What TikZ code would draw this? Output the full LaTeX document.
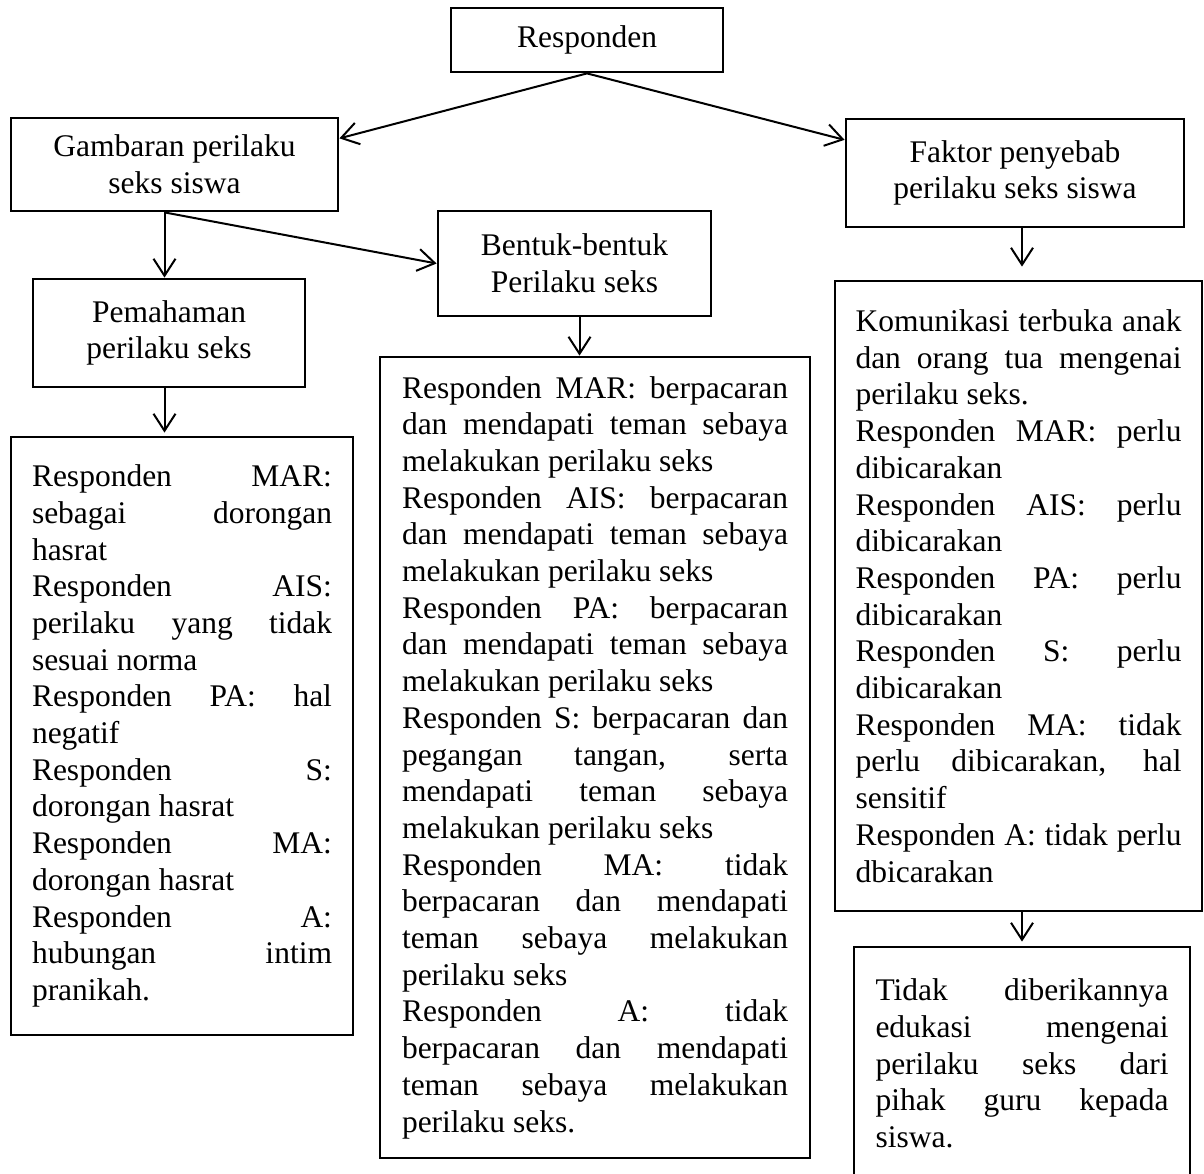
\documentclass[tikz,border=0pt]{standalone}
\usepackage{fontspec}
\setmainfont{Liberation Serif}
\usetikzlibrary{arrows.meta}

\newcommand{\jl}[1]{{\spaceskip=0pt\xspaceskip=0pt\makebox[\hsize][s]{#1}}}

\begin{document}
\begin{tikzpicture}[x=1pt, y=-1pt,
    box/.style={draw, line width=2.8pt, inner sep=0pt, align=center,
      font=\fontsize{31.5}{36.7}\selectfont},
    txtbox/.style={box, align=left, execute at begin node={\spaceskip=0pt\xspaceskip=0pt}},
    arr/.style={line width=2pt, -{Straight Barb[length=17pt, width=22pt]}}]
      \useasboundingbox[fill=white] (0,0) rectangle (1204,1174);

      \node[box, minimum width=272, minimum height=64] (resp) at (587,40) {Responden};
      \node[box, minimum width=327, minimum height=93] (gamb) at (174.5,164.5) {Gambaran perilaku\\seks siswa};
      \node[box, minimum width=338, minimum height=108] (fakt) at (1015,173) {Faktor penyebab\\perilaku seks siswa};
      \node[box, minimum width=273, minimum height=105] (bent) at (574.5,263.5) {Bentuk-bentuk\\Perilaku seks};
      \node[box, minimum width=272, minimum height=108] (pema) at (169,333) {Pemahaman\\perilaku seks};

      \node[txtbox, text width=300, minimum width=342, minimum height=598] (lbox) at (182,736) {%
        \jl{Responden MAR:}\\
        \jl{sebagai dorongan}\\
        hasrat\\
        \jl{Responden AIS:}\\
        \jl{perilaku yang tidak}\\
        sesuai norma\\
        \jl{Responden PA: hal}\\
        negatif\\
        \jl{Responden S:}\\
        dorongan hasrat\\
        \jl{Responden MA:}\\
        dorongan hasrat\\
        \jl{Responden A:}\\
        \jl{hubungan intim}\\
        pranikah.};

      \node[txtbox, text width=386, minimum width=430, minimum height=801] (mid) at (595,757.5) {%
        \jl{Responden MAR: berpacaran}\\
        \jl{dan mendapati teman sebaya}\\
        melakukan perilaku seks\\
        \jl{Responden AIS: berpacaran}\\
        \jl{dan mendapati teman sebaya}\\
        melakukan perilaku seks\\
        \jl{Responden PA: berpacaran}\\
        \jl{dan mendapati teman sebaya}\\
        melakukan perilaku seks\\
        \jl{Responden S: berpacaran dan}\\
        \jl{pegangan tangan, serta}\\
        \jl{mendapati teman sebaya}\\
        melakukan perilaku seks\\
        \jl{Responden MA: tidak}\\
        \jl{berpacaran dan mendapati}\\
        \jl{teman sebaya melakukan}\\
        perilaku seks\\
        \jl{Responden A: tidak}\\
        \jl{berpacaran dan mendapati}\\
        \jl{teman sebaya melakukan}\\
        perilaku seks.};

      \node[txtbox, text width=326, minimum width=367, minimum height=630] (rbox) at (1018.5,596) {%
        \jl{Komunikasi terbuka anak}\\
        \jl{dan orang tua mengenai}\\
        perilaku seks.\\
        \jl{Responden MAR: perlu}\\
        dibicarakan\\
        \jl{Responden AIS: perlu}\\
        dibicarakan\\
        \jl{Responden PA: perlu}\\
        dibicarakan\\
        \jl{Responden S: perlu}\\
        dibicarakan\\
        \jl{Responden MA: tidak}\\
        \jl{perlu dibicarakan, hal}\\
        sensitif\\
        \jl{Responden A: tidak perlu}\\
        dbicarakan};

      \node[txtbox, text width=293, minimum width=336, minimum height=233] (bott) at (1022,1063.5) {%
        \jl{Tidak diberikannya}\\
        \jl{edukasi mengenai}\\
        \jl{perilaku seks dari}\\
        \jl{pihak guru kepada}\\
        siswa.};

      \coordinate (gx) at ([xshift=-10pt]gamb.south);

      \draw[arr] (resp.south) -- (gamb.9);
      \draw[arr] (resp.south) -- (fakt.169);
      \draw[arr] (gx) -- (gx |- pema.north);
      \draw[arr] (gx) -- (bent.west);
      \draw[arr, shorten >=3pt] (gx |- pema.south) -- (gx |- lbox.north);
      \draw[arr] ([xshift=5pt]bent.south) -- ([xshift=5pt]bent.south |- mid.north);
      \draw[arr, shorten >=13pt] (fakt.south -| bott.north) -- (rbox.north -| bott.north);
      \draw[arr, shorten >=4pt] (rbox.south -| bott.north) -- (bott.north);
\end{tikzpicture}
\end{document}
